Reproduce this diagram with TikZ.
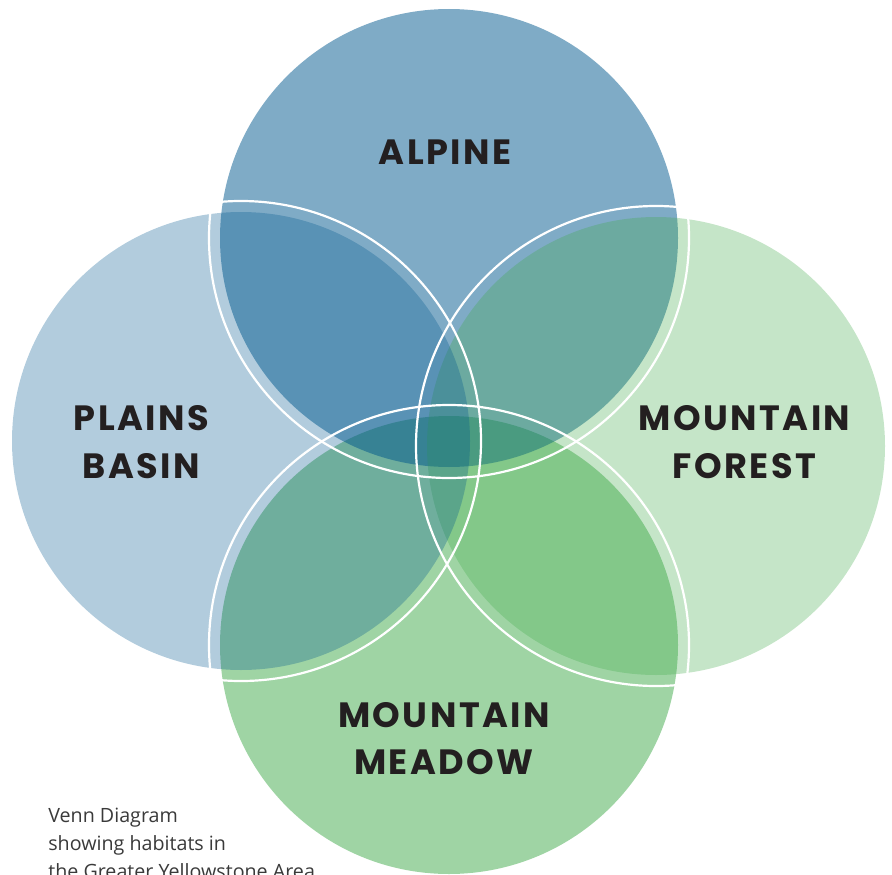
\documentclass[tikz,border=0pt]{standalone}
\usepackage{fontspec}
\newfontfamily\habitatfont{Poppins}[LetterSpace=7]
\newfontfamily\notefont{Open Sans}
\definecolor{habblue}{RGB}{0,87,141}
\definecolor{habgreen}{RGB}{64,170,74}
\definecolor{habtext}{RGB}{35,31,32}
\definecolor{notetext}{RGB}{58,58,58}
\tikzset{
  habitat/.style={font=\habitatfont\bfseries\fontsize{20}{27}\selectfont, text=habtext, align=center, inner sep=0pt},
  note/.style={font=\notefont\fontsize{11.2}{15.9}\selectfont, text=notetext, align=left, inner sep=0pt},
  ring/.style={draw=white, line width=1.25pt}
}
\begin{document}
\begin{tikzpicture}
[x=0.02cm, y=-0.02cm, line join=round, line cap=round]
\useasboundingbox (0,0) rectangle (892,875);
\clip (0,0) rectangle (892,875);
% discs, bottom to top: meadow, alpine, forest, plains
\foreach \x/\y/\col/\o in {449/645/habgreen/.5, 449/238/habblue/.5, 656/446/habgreen/.3, 241/441/habblue/.3}
  \fill[\col, fill opacity=\o] (\x,\y) circle (229);
% white rings
\foreach \x/\y in {449/645, 449/238, 656/446, 241/441}
  \draw[ring] (\x,\y) circle (240);
\node[habitat] (alpine) at (445,152.5) {ALPINE};
\node[habitat] (plains) at (141.5,442) {PLAINS\\BASIN};
\node[habitat] (forest) at (744.5,442) {MOUNTAIN\\FOREST};
\node[habitat] (meadow) at (444,738.5) {MOUNTAIN\\MEADOW};
\node[note, anchor=base west] (caption) at (48,878) {Venn Diagram\\showing habitats in\\the Greater Yellowstone Area};
\end{tikzpicture}
\end{document}
